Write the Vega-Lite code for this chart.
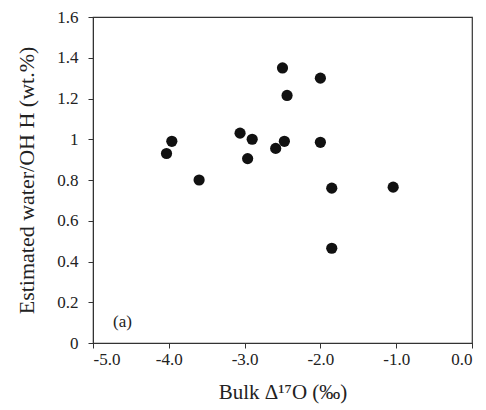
{
  "$schema": "https://vega.github.io/schema/vega-lite/v6.json",
  "width": 379,
  "height": 326,
  "autosize": {"type": "none"},
  "padding": {"left": 93, "top": 17, "right": 14, "bottom": 67},
  "background": "white",
  "config": {
    "font": "Liberation Serif",
    "view": {"stroke": "#333333", "strokeWidth": 1.2},
    "axis": {
      "grid": false,
      "domainColor": "#333333",
      "tickColor": "#333333",
      "tickSize": 5,
      "labelFont": "Liberation Serif",
      "titleFont": "Liberation Serif",
      "labelFontSize": 17,
      "titleFontSize": 21,
      "labelColor": "#222222",
      "titleColor": "#222222",
      "titleFontWeight": "normal"
    }
  },
  "data": {
    "values": [
      {"d17O": -4.03, "water": 0.93},
      {"d17O": -3.96, "water": 0.99},
      {"d17O": -3.60, "water": 0.80},
      {"d17O": -3.06, "water": 1.03},
      {"d17O": -2.90, "water": 1.00},
      {"d17O": -2.96, "water": 0.905},
      {"d17O": -2.59, "water": 0.955},
      {"d17O": -2.475, "water": 0.99},
      {"d17O": -2.50, "water": 1.35},
      {"d17O": -2.44, "water": 1.215},
      {"d17O": -2.00, "water": 1.30},
      {"d17O": -2.00, "water": 0.985},
      {"d17O": -1.85, "water": 0.76},
      {"d17O": -1.85, "water": 0.465},
      {"d17O": -1.04, "water": 0.765}
    ]
  },
  "layer": [
    {
      "mark": {"type": "point", "filled": true, "color": "#111111", "opacity": 1, "size": 125},
      "encoding": {
        "x": {
          "field": "d17O", "type": "quantitative",
          "scale": {"domain": [-5, 0], "nice": false},
          "axis": {
            "values": [-5, -4, -3, -2, -1, 0],
            "labelExpr": "replace(format(datum.value, '.1f'), '\u2212', '-')",
            "labelPadding": 3,
            "title": "Bulk \u0394\u00b9\u2077O (\u2030)",
            "titlePadding": 14
          }
        },
        "y": {
          "field": "water", "type": "quantitative",
          "scale": {"domain": [0, 1.6], "nice": false},
          "axis": {
            "values": [0, 0.2, 0.4, 0.6, 0.8, 1, 1.2, 1.4, 1.6],
            "format": ".2~f",
            "labelPadding": 10,
            "title": "Estimated water/OH H (wt.%)",
            "titleFontSize": 22,
            "titlePadding": 18
          }
        }
      }
    },
    {
      "data": {"values": [{"x": -4.61, "y": 0.103, "label": "(a)"}]},
      "mark": {"type": "text", "fontSize": 17, "font": "Liberation Serif", "color": "#222222", "align": "center", "baseline": "middle"},
      "encoding": {
        "x": {"field": "x", "type": "quantitative"},
        "y": {"field": "y", "type": "quantitative"},
        "text": {"field": "label"}
      }
    }
  ]
}
